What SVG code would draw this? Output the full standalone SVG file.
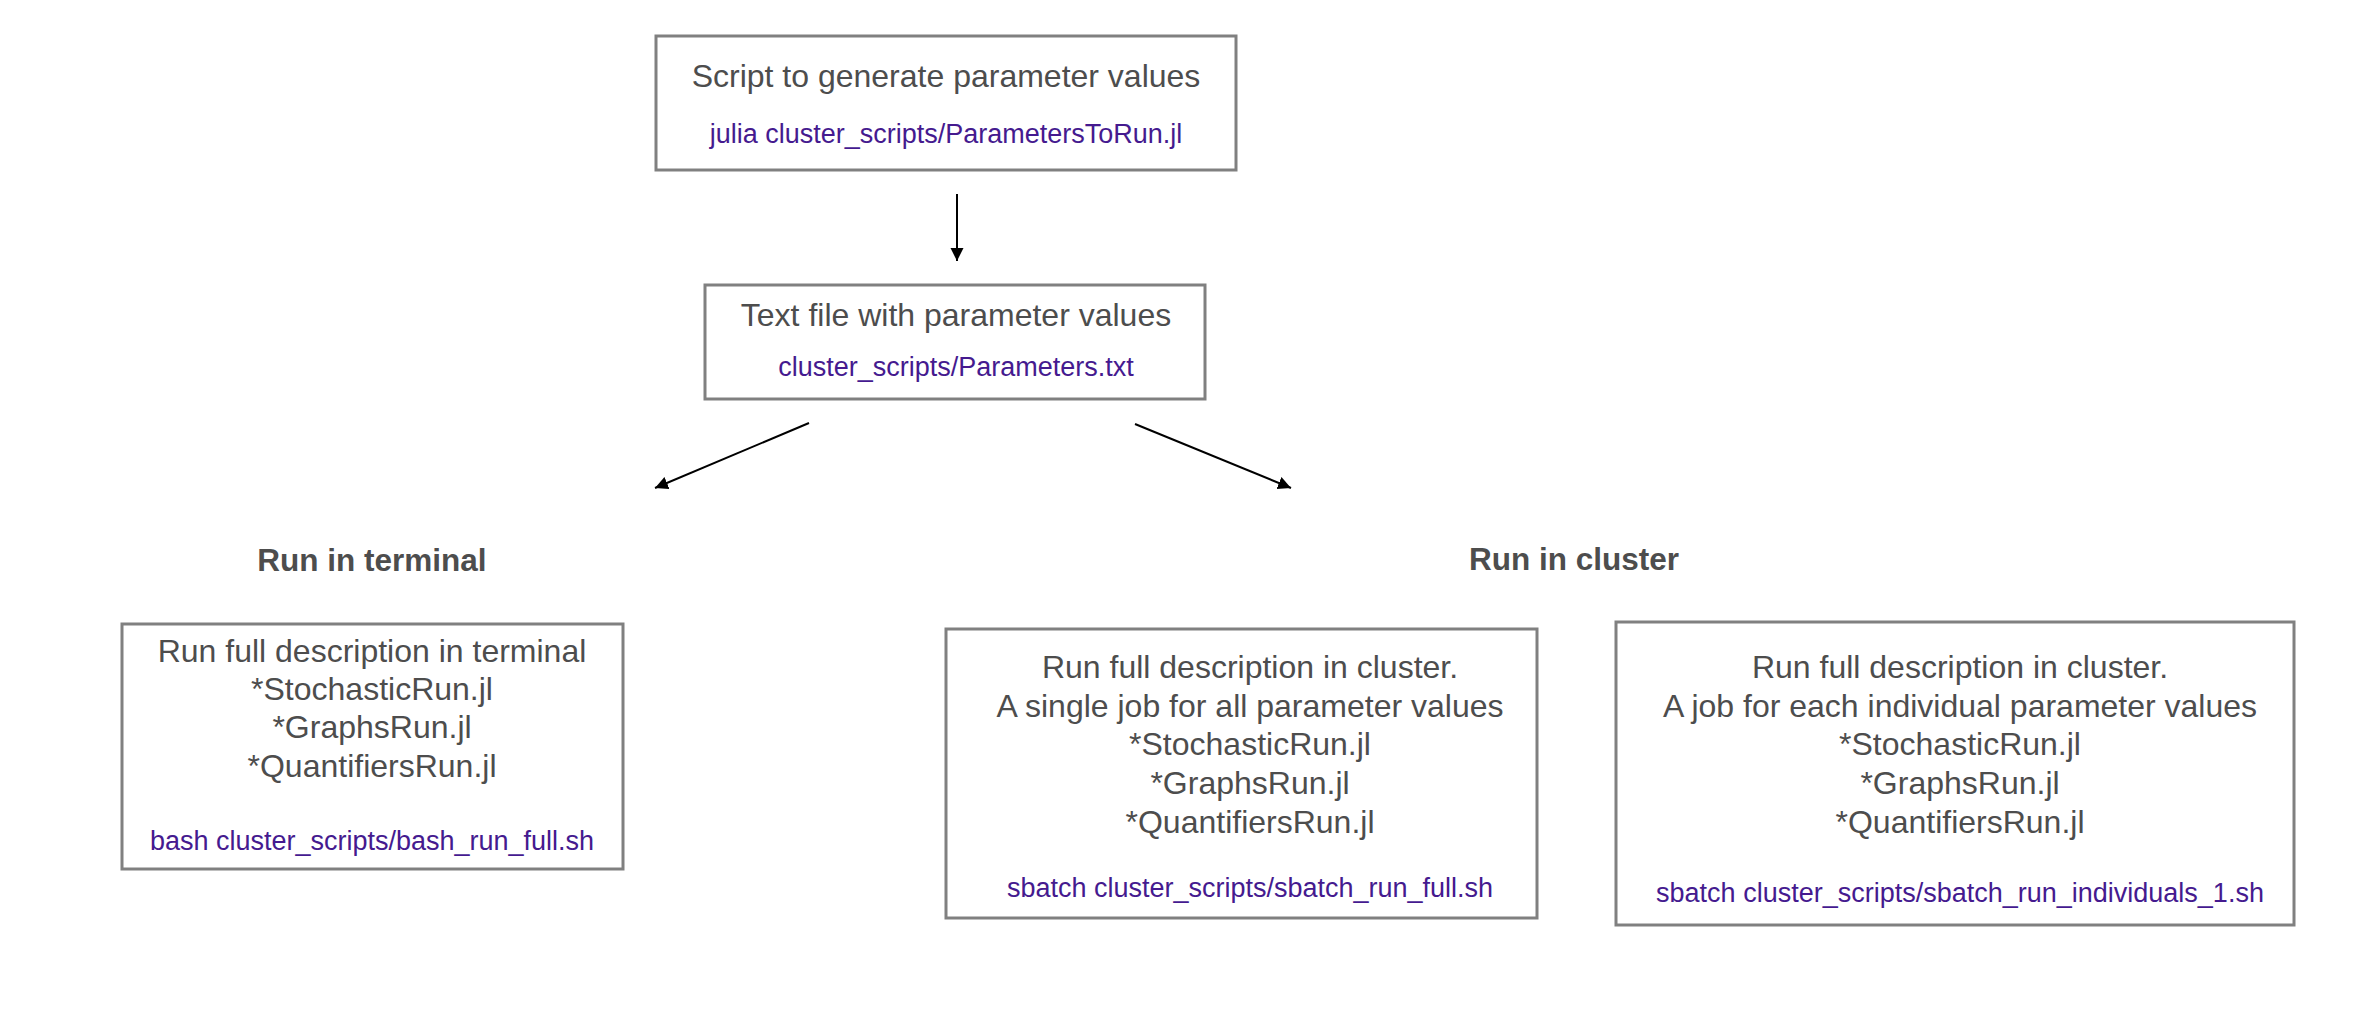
<svg xmlns="http://www.w3.org/2000/svg" width="2369" height="1036" viewBox="0 0 2369 1036">
  <style>
    .box { fill: #ffffff; stroke: #808080; stroke-width: 3; }
    .t { font-family: "Liberation Sans", Arial, Helvetica, sans-serif; font-size: 32px; fill: #4d4d4d; text-anchor: middle; }
    .h { font-family: "Liberation Sans", Arial, Helvetica, sans-serif; font-size: 31.5px; font-weight: bold; fill: #4d4d4d; text-anchor: middle; }
    .c { font-family: "Liberation Sans", Arial, Helvetica, sans-serif; font-size: 27px; fill: #451a8f; text-anchor: middle; }
    .edge { stroke: #000000; stroke-width: 2; fill: none; }
  </style>
  <defs>
    <marker id="arrow" markerUnits="userSpaceOnUse" markerWidth="14" markerHeight="14" refX="13" refY="6.5" orient="auto">
      <path d="M0,0 L13,6.5 L0,13 Z" fill="#000000"/>
    </marker>
  </defs>
  <rect width="2369" height="1036" fill="#ffffff"/>

  <g id="node-script">
    <rect class="box" x="656" y="36" width="580" height="134"/>
    <text class="t" x="946" y="87">Script to generate parameter values</text>
    <text class="c" x="946" y="143">julia cluster_scripts/ParametersToRun.jl</text>
  </g>

  <g id="node-textfile">
    <rect class="box" x="705" y="285" width="500" height="114"/>
    <text class="t" x="956" y="326">Text file with parameter values</text>
    <text class="c" x="956" y="376">cluster_scripts/Parameters.txt</text>
  </g>

  <g id="label-terminal">
    <text class="h" x="372" y="571">Run in terminal</text>
  </g>

  <g id="label-cluster">
    <text class="h" x="1574" y="570">Run in cluster</text>
  </g>

  <g id="node-terminal">
    <rect class="box" x="122" y="624" width="501" height="245"/>
    <text class="t" x="372" y="662">Run full description in terminal</text>
    <text class="t" x="372" y="700">*StochasticRun.jl</text>
    <text class="t" x="372" y="738">*GraphsRun.jl</text>
    <text class="t" x="372" y="777">*QuantifiersRun.jl</text>
    <text class="c" x="372" y="850">bash cluster_scripts/bash_run_full.sh</text>
  </g>

  <g id="node-cluster-full">
    <rect class="box" x="946" y="629" width="591" height="289"/>
    <text class="t" x="1250" y="678">Run full description in cluster.</text>
    <text class="t" x="1250" y="717">A single job for all parameter values</text>
    <text class="t" x="1250" y="755">*StochasticRun.jl</text>
    <text class="t" x="1250" y="794">*GraphsRun.jl</text>
    <text class="t" x="1250" y="833">*QuantifiersRun.jl</text>
    <text class="c" x="1250" y="897">sbatch cluster_scripts/sbatch_run_full.sh</text>
  </g>

  <g id="node-cluster-individual">
    <rect class="box" x="1616" y="622" width="678" height="303"/>
    <text class="t" x="1960" y="678">Run full description in cluster.</text>
    <text class="t" x="1960" y="717">A job for each individual parameter values</text>
    <text class="t" x="1960" y="755">*StochasticRun.jl</text>
    <text class="t" x="1960" y="794">*GraphsRun.jl</text>
    <text class="t" x="1960" y="833">*QuantifiersRun.jl</text>
    <text class="c" x="1960" y="902">sbatch cluster_scripts/sbatch_run_individuals_1.sh</text>
  </g>

  <g id="connectors">
    <line class="edge" x1="957" y1="194" x2="957" y2="261" marker-end="url(#arrow)"/>
    <line class="edge" x1="809" y1="423" x2="655" y2="488" marker-end="url(#arrow)"/>
    <line class="edge" x1="1135" y1="424" x2="1291" y2="488" marker-end="url(#arrow)"/>
  </g>
</svg>
